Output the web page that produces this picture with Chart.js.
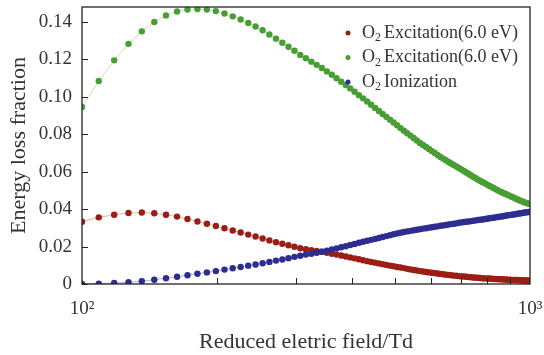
<!DOCTYPE html>
<html>
<head>
<meta charset="utf-8">
<script src="https://cdn.jsdelivr.net/npm/chart.js@4.4.0/dist/chart.umd.min.js"></script>
<style>
  html, body { margin: 0; padding: 0; background: #fff; }
</style>
</head>
<body>
<canvas id="energyLossChart" width="544" height="355"></canvas>
<script>
// Reduced electric field (Td), one point every 9 Td
const fieldTd = [
    100, 109, 118, 127, 136, 145, 154, 163, 172, 181,
    190, 199, 208, 217, 226, 235, 244, 253, 262, 271,
    280, 289, 298, 307, 316, 325, 334, 343, 352, 361,
    370, 379, 388, 397, 406, 415, 424, 433, 442, 451,
    460, 469, 478, 487, 496, 505, 514, 523, 532, 541,
    550, 559, 568, 577, 586, 595, 604, 613, 622, 631,
    640, 649, 658, 667, 676, 685, 694, 703, 712, 721,
    730, 739, 748, 757, 766, 775, 784, 793, 802, 811,
    820, 829, 838, 847, 856, 865, 874, 883, 892, 901,
    910, 919, 928, 937, 946, 955, 964, 973, 982, 991,
    1000
];

const excitationRed = [
    0.0333, 0.0356, 0.0370, 0.0379, 0.0382, 0.0378, 0.0370, 0.0360, 0.0347, 0.0334,
    0.0322, 0.0310, 0.0298, 0.0286, 0.0275, 0.0264, 0.0254, 0.0243, 0.0233, 0.0223,
    0.0215, 0.0207, 0.0199, 0.0191, 0.0186, 0.0181, 0.0177, 0.0172, 0.0167, 0.0162,
    0.0157, 0.0152, 0.0147, 0.0142, 0.0137, 0.0132, 0.0127, 0.0122, 0.0118, 0.0114,
    0.0110, 0.0106, 0.0102, 0.0098, 0.0095, 0.0091, 0.0088, 0.0085, 0.0081, 0.0078,
    0.0075, 0.0072, 0.0069, 0.0067, 0.0064, 0.0062, 0.0060, 0.0058, 0.0056, 0.0054,
    0.0052, 0.0050, 0.0048, 0.0047, 0.0045, 0.0044, 0.0042, 0.0041, 0.0040, 0.0039,
    0.0037, 0.0036, 0.0035, 0.0034, 0.0033, 0.0032, 0.0031, 0.0030, 0.0030, 0.0029,
    0.0028, 0.0027, 0.0027, 0.0026, 0.0025, 0.0025, 0.0024, 0.0024, 0.0023, 0.0023,
    0.0022, 0.0022, 0.0021, 0.0021, 0.0020, 0.0020, 0.0020, 0.0019, 0.0019, 0.0019,
    0.0018
];

const excitationGreen = [
    0.0946, 0.1085, 0.1195, 0.1283, 0.1350, 0.1400, 0.1435, 0.1456, 0.1466, 0.1469,
    0.1466, 0.1458, 0.1445, 0.1430, 0.1413, 0.1395, 0.1376, 0.1356, 0.1333, 0.1311,
    0.1289, 0.1268, 0.1246, 0.1224, 0.1206, 0.1188, 0.1171, 0.1154, 0.1136, 0.1118,
    0.1099, 0.1081, 0.1063, 0.1045, 0.1027, 0.1009, 0.0992, 0.0975, 0.0958, 0.0941,
    0.0924, 0.0908, 0.0893, 0.0878, 0.0863, 0.0848, 0.0833, 0.0819, 0.0806, 0.0793,
    0.0780, 0.0767, 0.0754, 0.0743, 0.0732, 0.0721, 0.0710, 0.0700, 0.0689, 0.0679,
    0.0670, 0.0661, 0.0652, 0.0644, 0.0636, 0.0628, 0.0620, 0.0612, 0.0604, 0.0596,
    0.0588, 0.0580, 0.0572, 0.0565, 0.0557, 0.0550, 0.0544, 0.0538, 0.0531, 0.0525,
    0.0519, 0.0513, 0.0507, 0.0501, 0.0495, 0.0490, 0.0485, 0.0481, 0.0476, 0.0471,
    0.0466, 0.0462, 0.0457, 0.0453, 0.0448, 0.0444, 0.0440, 0.0436, 0.0433, 0.0430,
    0.0427
];

const ionizationBlue = [
    0.0000, 0.0002, 0.0005, 0.0009, 0.0015, 0.0023, 0.0031, 0.0039, 0.0047, 0.0055,
    0.0062, 0.0069, 0.0077, 0.0084, 0.0091, 0.0098, 0.0104, 0.0111, 0.0118, 0.0125,
    0.0131, 0.0138, 0.0145, 0.0151, 0.0157, 0.0162, 0.0167, 0.0172, 0.0178, 0.0184,
    0.0190, 0.0196, 0.0202, 0.0208, 0.0214, 0.0220, 0.0226, 0.0231, 0.0236, 0.0241,
    0.0246, 0.0251, 0.0256, 0.0261, 0.0266, 0.0270, 0.0274, 0.0278, 0.0281, 0.0284,
    0.0287, 0.0290, 0.0293, 0.0296, 0.0298, 0.0301, 0.0303, 0.0306, 0.0308, 0.0311,
    0.0313, 0.0315, 0.0318, 0.0320, 0.0322, 0.0324, 0.0327, 0.0329, 0.0331, 0.0333,
    0.0334, 0.0336, 0.0338, 0.0340, 0.0342, 0.0344, 0.0345, 0.0347, 0.0349, 0.0351,
    0.0353, 0.0354, 0.0356, 0.0358, 0.0360, 0.0361, 0.0363, 0.0365, 0.0367, 0.0368,
    0.0370, 0.0372, 0.0373, 0.0375, 0.0377, 0.0378, 0.0380, 0.0382, 0.0383, 0.0384,
    0.0386
];

const seriesLabels = ['O₂ Excitation(6.0 eV)', 'O₂ Excitation(6.0 eV)', 'O₂ Ionization'];
const yTickValues = [0, 0.02, 0.04, 0.06, 0.08, 0.10, 0.12, 0.14];
const xLabelValues = [100, 1000];
const xLabelTexts = ['10²', '10³'];
const xMinorTicks = [200, 300, 400, 500, 600, 700, 800, 900];

const SERIF = '"Liberation Serif", "Times New Roman", serif';
const TEXT_COLOR = '#333';
Chart.defaults.font.family = SERIF;

function makeSeries(values, label, pointColor, lineColor, order) {
    return {
        label: label,
        data: fieldTd.map((x, i) => ({ x: x, y: values[i] })),
        showLine: true,
        borderColor: lineColor,
        borderWidth: 1,
        pointRadius: 3.2,
        pointBackgroundColor: pointColor,
        pointBorderWidth: 0,
        pointColor: pointColor,
        order: order
    };
}

// frame, inward ticks and the legend inside the plot
const framePlugin = {
    id: 'frameAndLegend',
    afterDatasetsDraw(chart) {
        const { ctx, chartArea: a, scales: { x, y } } = chart;
        ctx.save();
        ctx.strokeStyle = '#222';
        ctx.lineWidth = 1.3;
        ctx.strokeRect(a.left, a.top, a.right - a.left, a.bottom - a.top);
        ctx.beginPath();
        yTickValues.forEach(v => {
            const py = Math.round(y.getPixelForValue(v)) + 0.5;
            ctx.moveTo(a.left, py);
            ctx.lineTo(a.left + 6, py);
        });
        xMinorTicks.forEach(v => {
            const px = Math.round(x.getPixelForValue(v)) + 0.5;
            ctx.moveTo(px, a.bottom);
            ctx.lineTo(px, a.bottom - 6);
        });
        ctx.lineWidth = 1;
        ctx.stroke();

        // legend
        ctx.textBaseline = 'middle';
        chart.data.datasets.forEach((ds, i) => {
            const cy = 33 + i * 24.5;
            ctx.fillStyle = ds.pointColor;
            ctx.beginPath();
            ctx.arc(348, cy, 2.5, 0, Math.PI * 2);
            ctx.fill();

            const parts = ds.label.split('₂');
            let tx = 362;
            ctx.fillStyle = TEXT_COLOR;
            ctx.font = '18px ' + SERIF;
            ctx.fillText(parts[0], tx, cy);
            tx += ctx.measureText(parts[0]).width;
            ctx.font = '12px ' + SERIF;
            ctx.fillText('2', tx, cy + 5);
            tx += ctx.measureText('2').width + 3;
            ctx.font = '18px ' + SERIF;
            ctx.fillText(parts[1].trimStart(), tx, cy);
        });
        ctx.restore();
    }
};

const ctx = document.getElementById('energyLossChart').getContext('2d');
const energyChart = new Chart(ctx, {
    type: 'scatter',
    data: {
        datasets: [
            makeSeries(excitationRed, seriesLabels[0], 'rgb(155, 30, 20)', 'rgb(235, 175, 155)', 2),
            makeSeries(excitationGreen, seriesLabels[1], 'rgb(72, 158, 52)', 'rgb(215, 220, 165)', 1),
            makeSeries(ionizationBlue, seriesLabels[2], 'rgb(45, 45, 145)', 'rgb(175, 175, 220)', 0)
        ]
    },
    options: {
        responsive: false,
        animation: false,
        devicePixelRatio: 1,
        layout: {
            autoPadding: false,
            padding: { top: 7, right: 14, left: 0, bottom: 0 }
        },
        scales: {
            x: {
                type: 'logarithmic',
                min: 100,
                max: 1000,
                afterBuildTicks: s => { s.ticks = xLabelValues.map(v => ({ value: v })); },
                afterFit: s => {
                    s.height = 71;
                    s.paddingLeft = 0;
                    s.paddingRight = 0;
                },
                grid: { display: false, drawTicks: false },
                border: { display: false },
                ticks: {
                    padding: 14,
                    autoSkip: false,
                    maxRotation: 0,
                    color: TEXT_COLOR,
                    font: { family: SERIF, size: 19 },
                    callback: function(value) {
                        const i = xLabelValues.indexOf(value);
                        return i >= 0 ? xLabelTexts[i] : '';
                    }
                },
                title: {
                    display: true,
                    text: 'Reduced eletric field/Td',
                    color: TEXT_COLOR,
                    font: { family: SERIF, size: 22 },
                    padding: { top: 0, bottom: 0 }
                }
            },
            y: {
                type: 'linear',
                min: 0,
                max: 0.148,
                afterBuildTicks: s => { s.ticks = yTickValues.map(v => ({ value: v })); },
                afterFit: s => {
                    s.width = 82;
                    s.paddingTop = 0;
                    s.paddingBottom = 0;
                },
                grid: { display: false, drawTicks: false },
                border: { display: false },
                ticks: {
                    padding: 10,
                    color: TEXT_COLOR,
                    font: { family: SERIF, size: 19 },
                    callback: v => v === 0 ? '0' : v.toFixed(2)
                },
                title: {
                    display: true,
                    text: 'Energy loss fraction',
                    color: TEXT_COLOR,
                    font: { family: SERIF, size: 22 },
                    padding: { top: 6, bottom: 0 }
                }
            }
        },
        plugins: {
            legend: { display: false },
            tooltip: { enabled: false }
        }
    },
    plugins: [framePlugin]
});
</script>
</body>
</html>
